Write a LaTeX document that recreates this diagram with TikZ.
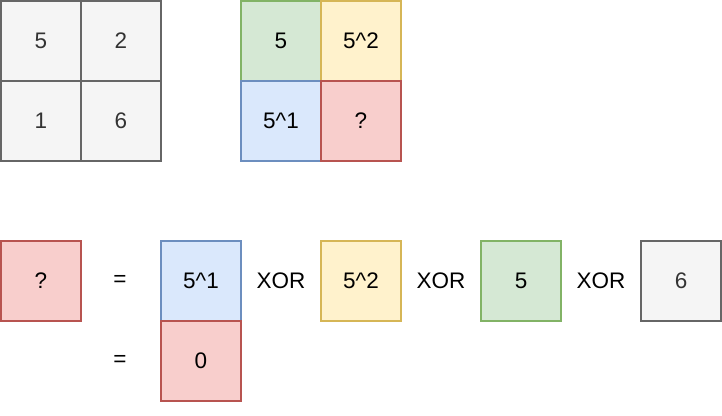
\documentclass[tikz,border=0pt]{standalone}
\usepackage{fontspec}
\setmainfont{Liberation Sans}
\usepackage{xcolor}
\usetikzlibrary{positioning}

\definecolor{grayfill}{HTML}{F5F5F5}
\definecolor{graydraw}{HTML}{666666}
\definecolor{graytext}{HTML}{333333}
\definecolor{greenfill}{HTML}{D5E8D4}
\definecolor{greendraw}{HTML}{82B366}
\definecolor{yellowfill}{HTML}{FFF2CC}
\definecolor{yellowdraw}{HTML}{D6B656}
\definecolor{bluefill}{HTML}{DAE8FC}
\definecolor{bluedraw}{HTML}{6C8EBF}
\definecolor{redfill}{HTML}{F8CECC}
\definecolor{reddraw}{HTML}{B85450}

\begin{document}
\begin{tikzpicture}[
    x=0.025cm, y=-0.025cm,
    every node/.style={font=\fontsize{16}{18}\selectfont},
    cell/.style={rectangle, draw, line width=1.4pt, minimum size=2cm, inner sep=0pt},
    graycell/.style={cell, fill=grayfill, draw=graydraw, text=graytext},
    greencell/.style={cell, fill=greenfill, draw=greendraw},
    yellowcell/.style={cell, fill=yellowfill, draw=yellowdraw},
    bluecell/.style={cell, fill=bluefill, draw=bluedraw},
    redcell/.style={cell, fill=redfill, draw=reddraw},
    op/.style={inner sep=0pt}
]
\useasboundingbox (0,0) rectangle (722,415);

% Input grid
\node[graycell] (a11) at (41,41) {5};
\node[graycell] (a12) at (121,41) {2};
\node[graycell] (a21) at (41,121) {1};
\node[graycell] (a22) at (121,121) {6};

% Prefix grid
\node[greencell] (p11) at (281,41) {5};
\node[yellowcell] (p12) at (361,41) {5\^{}2};
\node[bluecell] (p21) at (281,121) {5\^{}1};
\node[redcell] (p22) at (361,121) {?};

% Equation - first line
\node[redcell] (lhs) at (41,281) {?};
\node[op] (eq1) at (120,281) {=};
\node[bluecell] (t1) at (201,281) {5\^{}1};
\node[op] (x1) at (281,281) {XOR};
\node[yellowcell] (t2) at (361,281) {5\^{}2};
\node[op] (x2) at (441,281) {XOR};
\node[greencell] (t3) at (521,281) {5};
\node[op] (x3) at (601,281) {XOR};
\node[graycell] (t4) at (681,281) {6};

% Equation - second line
\node[op] (eq2) at (120,361) {=};
\node[redcell] (res) at (201,361) {0};

\end{tikzpicture}
\end{document}
